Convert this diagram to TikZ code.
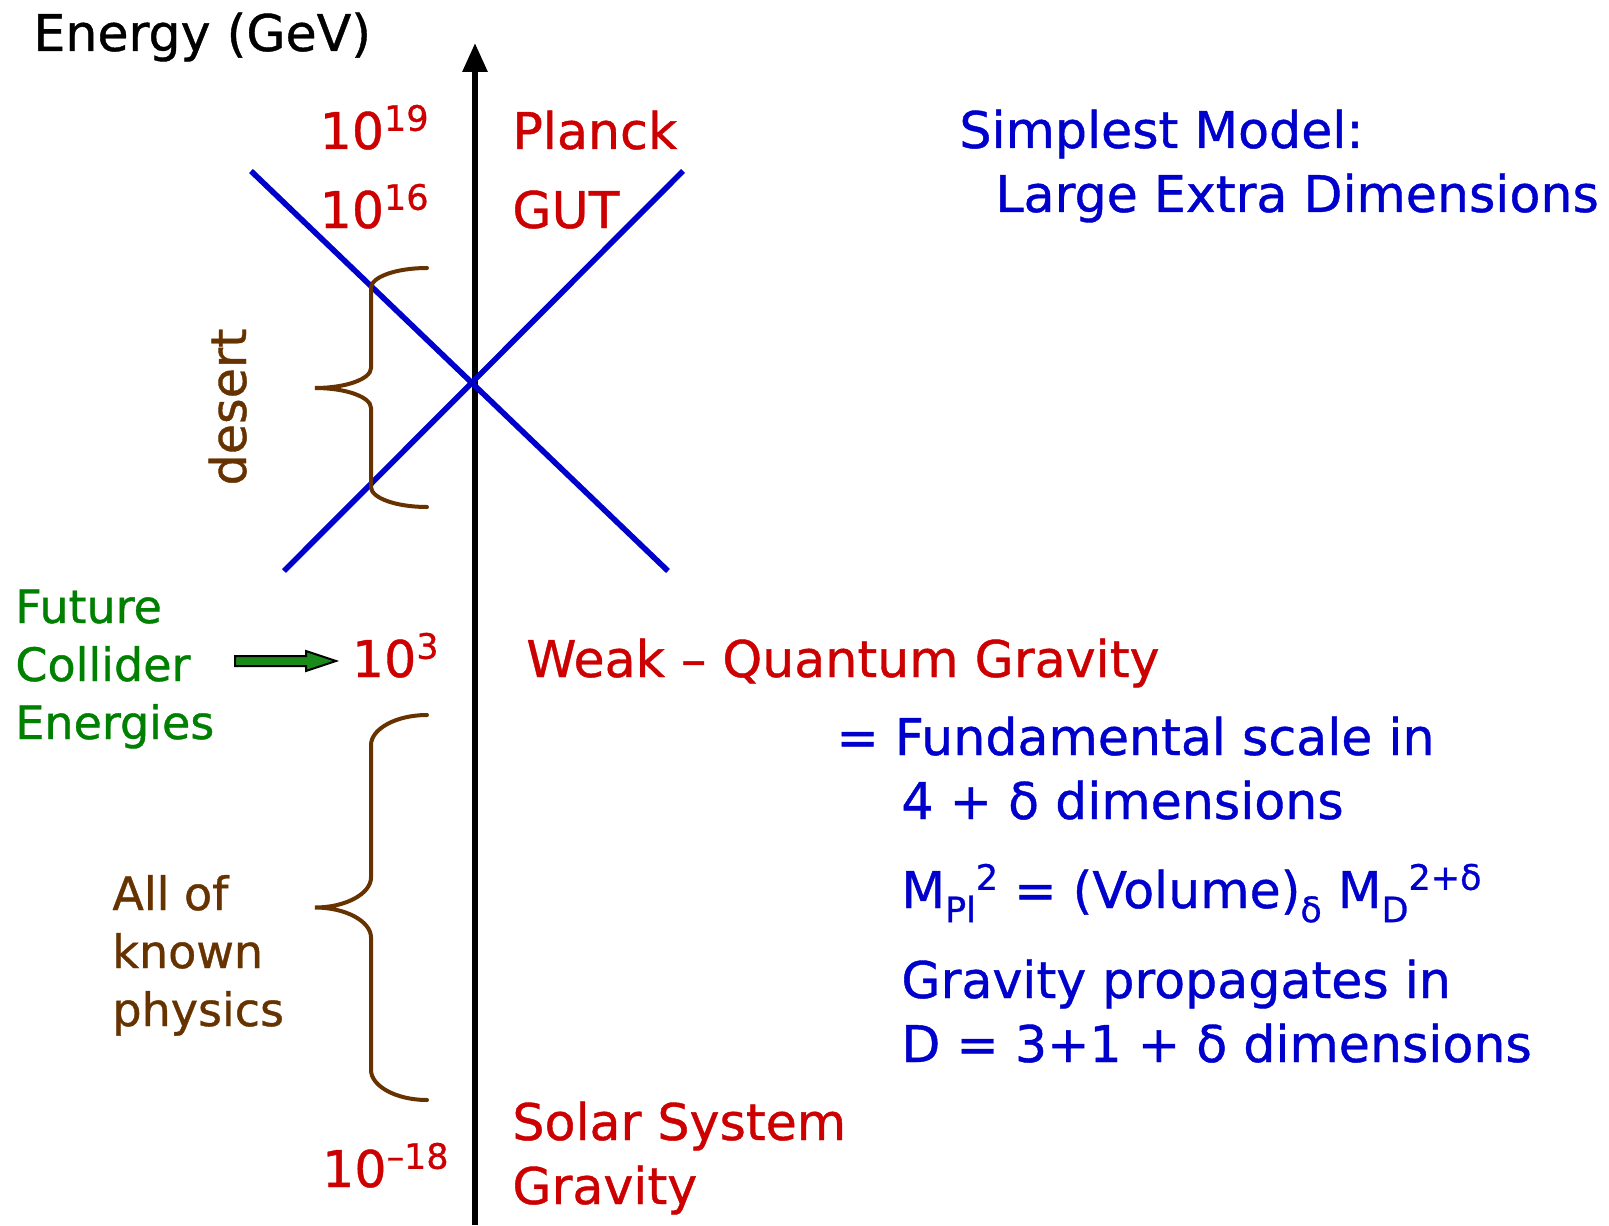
\documentclass[tikz,border=0pt]{standalone}
\usepackage{fontspec}
\setmainfont{DejaVu Sans}[FakeBold=0.8]
\usetikzlibrary{arrows.meta,positioning}
\definecolor{ScaleRed}{HTML}{CC0000}
\definecolor{ModelBlue}{HTML}{0000CC}
\definecolor{ColliderGreen}{HTML}{008000}
\definecolor{ArrowGreen}{HTML}{1A8A1A}
\definecolor{DesertBrown}{HTML}{663300}
\newcommand{\hi}[1]{\raisebox{0.36em}{\fontsize{17.5}{20}\selectfont #1}}
\newcommand{\lo}[1]{\raisebox{-0.28em}{\fontsize{17.5}{20}\selectfont #1}}

\begin{document}
\begin{tikzpicture}[x=0.5pt,y=-0.5pt,
    bigtext/.style={inner sep=0pt,align=left,font=\fontsize{25.3}{32}\selectfont},
    sidetext/.style={inner sep=0pt,align=left,font=\fontsize{23}{29}\selectfont},
    energyaxis/.style={line width=3pt,-{Triangle[length=14.5pt,width=12pt]}},
    crossline/.style={draw=ModelBlue,line width=2.8pt},
    rangebrace/.style={draw=DesertBrown,line width=2pt,line cap=round},
    fatarrow/.style={draw=black,line width=1pt,fill=ArrowGreen}
  ]
  \useasboundingbox (0,0) rectangle (1609,1225);

  % energy axis
  \coordinate (axisbot) at (475,1225);
  \coordinate (axistop) at (475,43);
  \draw[energyaxis] (axisbot) -- (axistop);
  \node[bigtext,anchor=base west] (energy) at (33,51) {Energy (GeV)};

  % scales
  \node[bigtext,text=ScaleRed,anchor=base east] (e19) at (429,149) {10\hi{19}};
  \node[bigtext,text=ScaleRed,anchor=base east] (e16) at (429,228) {10\hi{16}};
  \node[bigtext,text=ScaleRed,anchor=base east] (e3) at (439,677) {10\hi{3}};
  \node[bigtext,text=ScaleRed,anchor=base east] (em18) at (449,1187) {10\hi{–18}};
  \node[bigtext,text=ScaleRed,anchor=base west] (planck) at (512,149) {Planck};
  \node[bigtext,text=ScaleRed,anchor=base west] (gut) at (512,228) {GUT};
  \node[bigtext,text=ScaleRed,anchor=base west] (weak) at (526,677) {Weak – Quantum Gravity};
  \node[bigtext,text=ScaleRed,anchor=base west] (solar) at (512,1204) {Solar System\\Gravity};

  % crossing lines
  \coordinate (gutleft) at (251,171);
  \coordinate (gutright) at (683,171);
  \coordinate (lowleft) at (284,571);
  \coordinate (lowright) at (668,571);
  \draw[crossline] (gutleft) -- (lowright);
  \draw[crossline] (lowleft) -- (gutright);

  % braces
  \coordinate (deserttop) at (427,268);
  \draw[rangebrace] (deserttop) .. controls +(-31,0) and +(0,-11) .. ++(-56,20)
    -- ++(0,80) .. controls +(0,11) and +(31,0) .. ++(-56,20)
    .. controls +(31,0) and +(0,-11) .. ++(56,20)
    -- ++(0,79) .. controls +(0,11) and +(-31,0) .. ++(56,20);
  \node[sidetext,text=DesertBrown,rotate=90,anchor=base,font=\fontsize{24.6}{29}\selectfont] (desert) at (246,407) {desert};
  \coordinate (knowntop) at (427,715);
  \draw[rangebrace] (knowntop) .. controls +(-31,0) and +(0,-16) .. ++(-56,30)
    -- ++(0,132.5) .. controls +(0,16) and +(31,0) .. ++(-56,30)
    .. controls +(31,0) and +(0,-16) .. ++(56,30)
    -- ++(0,132.5) .. controls +(0,16) and +(-31,0) .. ++(56,30);
  \node[sidetext,text=DesertBrown,anchor=base west] (known) at (112,1026) {All of\\known\\physics};

  % future colliders
  \node[sidetext,text=ColliderGreen,anchor=base west] (future) at (15,739) {Future\\Collider\\Energies};
  \coordinate (arrowtail) at (235,661);
  \draw[fatarrow] (arrowtail) ++(0,-5) -- ++(71,0) -- ++(0,-5) -- ++(30,10)
    -- ++(-30,10) -- ++(0,-5) -- ++(-71,0) -- cycle;

  % model
  \node[bigtext,text=ModelBlue,anchor=base west] (simplest) at (959,212)
    {Simplest Model:\\\hspace*{18pt}Large Extra Dimensions};
  \node[bigtext,text=ModelBlue,anchor=base west] (fundamental) at (836,819)
    {= Fundamental scale in\\\hspace*{32.5pt}4 + δ dimensions};
  \node[bigtext,text=ModelBlue,anchor=base west] (massrel) at (901,908)
    {M\lo{Pl}\hi{2} = (Volume)\lo{δ} M\lo{D}\hi{2+δ}};
  \node[bigtext,text=ModelBlue,anchor=base west] (propagates) at (901,1062)
    {Gravity propagates in\\D = 3+1 + δ dimensions};
\end{tikzpicture}
\end{document}
